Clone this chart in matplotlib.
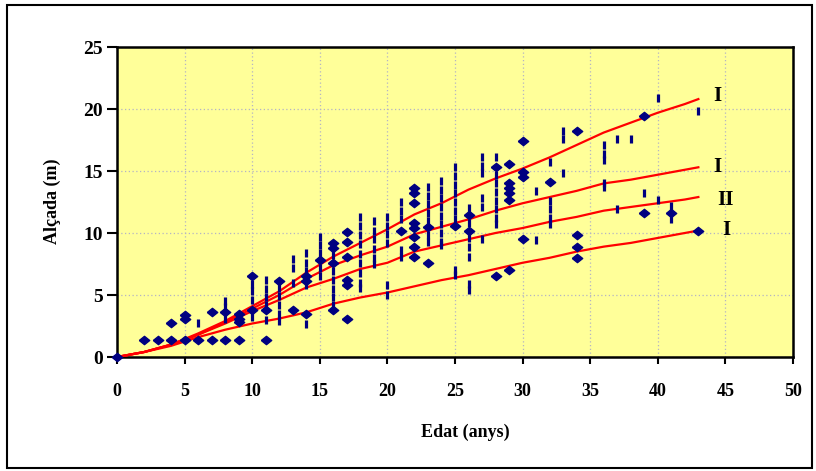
import matplotlib
matplotlib.use("Agg")
import matplotlib.pyplot as plt
from matplotlib.patches import Rectangle

# ---- data ----
curve_x = [0, 2, 4, 6, 8, 10, 12, 14, 16, 18, 20, 22, 24, 26, 28, 30, 32, 34, 36, 38, 40, 42, 43]
curve_1 = [0, 0.4, 1.0, 1.9, 2.9, 4.1, 5.3, 6.8, 8.1, 9.2, 10.3, 11.5, 12.4, 13.5, 14.4, 15.2, 16.1, 17.1, 18.1, 18.9, 19.7, 20.4, 20.8]
curve_2 = [0, 0.4, 1.0, 1.8, 2.8, 3.9, 5.0, 6.3, 7.4, 8.2, 8.9, 9.9, 10.5, 11.1, 11.8, 12.4, 12.9, 13.4, 14.0, 14.3, 14.7, 15.1, 15.3]
curve_3 = [0, 0.4, 1.0, 1.8, 2.7, 3.7, 4.6, 5.6, 6.3, 7.1, 7.6, 8.5, 9.0, 9.5, 10.0, 10.4, 10.9, 11.3, 11.8, 12.1, 12.4, 12.7, 12.9]
curve_4 = [0, 0.4, 0.9, 1.6, 2.2, 2.7, 3.1, 3.6, 4.3, 4.8, 5.2, 5.7, 6.2, 6.6, 7.1, 7.6, 8.0, 8.5, 8.9, 9.2, 9.6, 10.0, 10.2]
curve_labels = ["I", "I", "II", "I"]
label_x = [44.1, 44.1, 44.4, 44.75]
label_y = [21.05, 15.3, 12.66, 10.24]

diamond_x = [0, 2, 3, 4, 4, 5, 5, 5, 6, 7, 7, 8, 8, 9, 9, 9, 9,
             10, 10, 11, 11, 12, 13, 14, 14, 14, 15, 16, 16, 16, 16,
             17, 17, 17, 17, 17, 17, 21, 22, 22, 22, 22, 22, 22, 22, 22,
             23, 23, 25, 26, 26, 28, 28, 29, 29, 29, 29, 29, 29,
             30, 30, 30, 30, 32, 34, 34, 34, 34, 39, 39, 41, 43]
diamond_y = [0, 1.37, 1.37, 1.37, 2.77, 1.37, 3.1, 3.4, 1.37, 1.37, 3.65, 1.37, 3.65, 1.37, 3.5, 3.1, 2.8,
             3.8, 6.5, 1.37, 3.8, 6.1, 3.8, 6.5, 6.1, 3.5, 7.8, 9.2, 8.8, 7.6, 3.8,
             10.1, 9.3, 8.1, 6.2, 5.8, 3.1, 10.2, 13.6, 13.2, 12.4, 10.8, 10.4, 9.7, 8.9, 8.1,
             10.5, 7.6, 10.6, 11.45, 10.2, 15.3, 6.5, 15.6, 14.0, 13.6, 13.2, 12.7, 7.0,
             17.4, 14.9, 14.5, 9.5, 14.1, 18.25, 9.8, 8.9, 8.0, 19.4, 11.6, 11.6, 10.2]

dash_x = [6, 8, 8, 8, 10, 10, 10, 10, 11, 11, 11, 11, 11, 12, 12, 12, 12, 12,
          13, 13, 13, 14, 14, 14, 14, 14, 15, 15, 15, 15, 15,
          16, 16, 16, 16, 16, 16,
          18, 18, 18, 18, 18, 18, 18, 18, 18,
          19, 19, 19, 19, 19, 19,
          20, 20, 20, 20, 20, 20,
          21, 21, 21, 21, 21,
          23, 23, 23, 23, 23, 23, 23,
          24, 24, 24, 24, 24, 24, 24, 24, 24,
          25, 25, 25, 25, 25, 25, 25, 25, 25,
          26, 26, 26, 26, 26, 26, 26,
          27, 27, 27, 27, 27, 27,
          28, 28, 28, 28, 28, 28, 28, 28,
          31, 31, 32, 32, 32, 32, 32, 33, 33, 33,
          36, 36, 36, 36, 36, 37, 37, 38, 39, 40, 40, 41, 41, 43]
dash_y = [2.75, 4.5, 4.0, 3.1, 5.9, 5.3, 4.6, 3.2, 6.2, 5.5, 4.8, 4.2, 3.0, 5.6, 4.9, 4.2, 3.5, 2.9,
          7.9, 7.2, 6.0, 8.4, 7.6, 6.9, 5.8, 2.7, 9.7, 9.0, 8.4, 7.2, 6.5,
          8.2, 6.9, 6.2, 5.5, 4.8, 4.2,
          11.3, 10.6, 9.8, 9.1, 8.3, 7.6, 6.8, 6.0, 5.6,
          11.0, 10.2, 9.5, 8.7, 8.0, 7.5,
          11.3, 10.6, 9.9, 9.2, 5.8, 5.0,
          12.5, 11.8, 11.1, 8.6, 8.1,
          13.7, 13.0, 12.3, 11.6, 11.0, 9.8, 9.3,
          14.2, 13.5, 12.8, 12.1, 11.4, 10.7, 10.0, 9.3, 9.0,
          15.3, 14.6, 13.9, 13.2, 12.5, 11.8, 11.1, 7.0, 6.6,
          12.0, 10.8, 9.6, 8.9, 8.1, 5.9, 5.4,
          16.1, 15.4, 14.8, 12.8, 12.1, 9.5,
          16.1, 14.7, 14.0, 13.3, 12.6, 11.9, 11.2, 10.7,
          13.4, 9.4, 15.7, 12.6, 11.9, 11.2, 10.7, 18.2, 17.6, 14.8,
          17.1, 16.4, 15.9, 14.0, 13.7, 17.6, 11.9, 17.6, 13.2, 20.9, 12.7, 12.2, 11.1, 19.8]

x_ticks = [0, 5, 10, 15, 20, 25, 30, 35, 40, 45, 50]
y_ticks = [0, 5, 10, 15, 20, 25]

# ---- figure ----
W, H = 816, 471
fig = plt.figure(figsize=(W / 100, H / 100), dpi=100)
ax = fig.add_axes([117 / W, 1 - 357 / H, (793 - 117) / W, (357 - 47) / H])
ax.set_facecolor("#FFFF99")

serif = ["Liberation Serif", "DejaVu Serif"]

ax.set_xlim(0, 50)
ax.set_ylim(0, 25)
ax.set_xticks(x_ticks)
ax.set_yticks(y_ticks)
ax.grid(True, color="#B4B4C4", linestyle=(0, (1, 2)), linewidth=0.9)
ax.set_axisbelow(True)

for s in ax.spines.values():
    s.set_linewidth(1.8)
    s.set_color("black")

ax.tick_params(axis="x", direction="out", length=5, width=1.5, pad=14)
ax.tick_params(axis="y", direction="out", length=7, width=1.5, pad=3)
for lab in ax.get_xticklabels():
    lab.set_family(serif)
    lab.set_fontweight("bold")
    lab.set_fontsize(13)
for lab in ax.get_yticklabels():
    lab.set_family(serif)
    lab.set_fontweight("bold")
    lab.set_fontsize(14)

red = "#FF0000"
for cy in (curve_1, curve_2, curve_3, curve_4):
    ax.plot(curve_x, cy, color=red, linewidth=1.6, zorder=3, clip_on=False)

diamond = [(-1, 0), (0, 0.8), (1, 0), (0, -0.8), (-1, 0)]
ax.plot(diamond_x, diamond_y, linestyle="none", marker=diamond, markersize=7.5,
        color="#000080", zorder=4, clip_on=False)
ax.plot(dash_x, dash_y, linestyle="none", marker="|", markersize=5.6,
        markeredgewidth=2.3, color="#000080", zorder=4)

for t, lx, ly in zip(curve_labels, label_x, label_y):
    ax.text(lx, ly, t, family=serif, fontweight="bold", fontsize=15,
            ha="left", va="center", clip_on=False)

fig.text(465 / W, 1 - 432 / H, "Edat (anys)", family=serif, fontweight="bold",
         fontsize=13, ha="center", va="center")
fig.text(52 / W, 1 - 201 / H, "Alçada (m)", family=serif, fontweight="bold",
         fontsize=13, ha="center", va="center", rotation=90)

fig.patches.append(Rectangle((7 / W, 1 - 468 / H), 805 / W, 463 / H,
                             transform=fig.transFigure, fill=False,
                             edgecolor="black", linewidth=1.5))

fig.savefig("out.png", dpi=100)
